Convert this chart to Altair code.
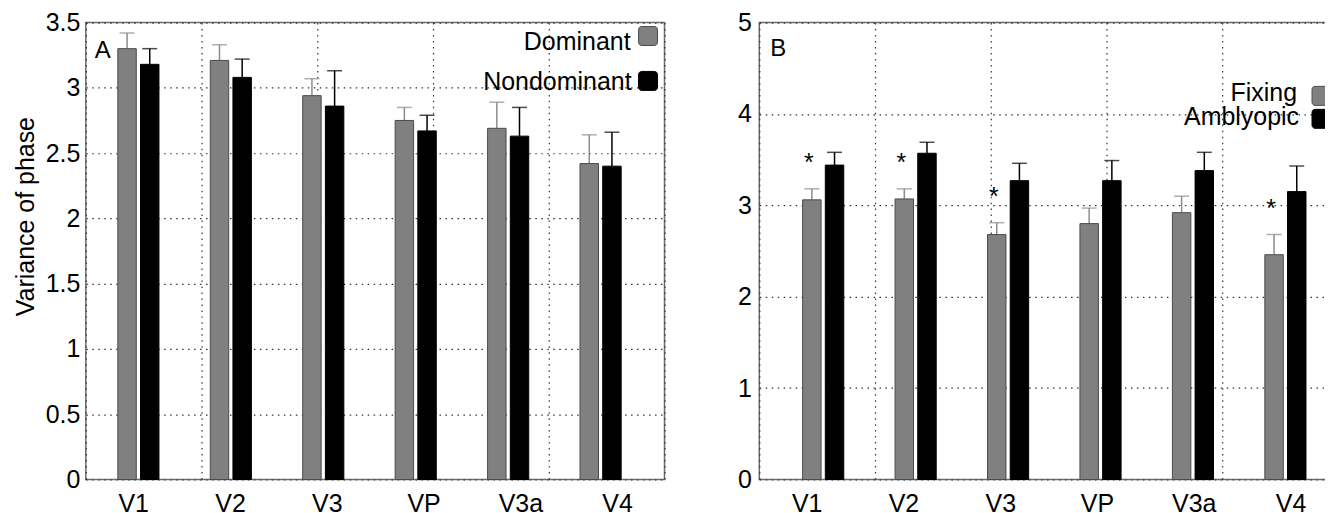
import altair as alt
import pandas as pd

# ---------------- data ----------------
regions = ["V1", "V2", "V3", "VP", "V3a", "V4"]

a_series = ["Dominant", "Nondominant"]
a_dom_mean = [3.30, 3.21, 2.94, 2.75, 2.69, 2.42]
a_dom_err = [0.12, 0.12, 0.13, 0.10, 0.20, 0.22]
a_non_mean = [3.18, 3.08, 2.86, 2.67, 2.63, 2.40]
a_non_err = [0.12, 0.14, 0.27, 0.12, 0.22, 0.26]

b_series = ["Fixing", "Amblyopic"]
b_fix_mean = [3.06, 3.07, 2.68, 2.80, 2.92, 2.46]
b_fix_err = [0.12, 0.11, 0.13, 0.17, 0.18, 0.22]
b_amb_mean = [3.44, 3.57, 3.27, 3.27, 3.38, 3.15]
b_amb_err = [0.14, 0.12, 0.19, 0.22, 0.20, 0.28]
b_significant = [True, True, True, False, False, True]

# ---------------- style ----------------
FONT = "Liberation Sans"
FS = 25
W, H = 580, 458
FILL = ["#808080", "#000000"]
EDGE = ["#4a4a4a", "#000000"]
ERRC = ["#8c8c8c", "#000000"]
GRID = dict(grid=True, gridDash=[1.5, 4.5], gridColor="#333333", gridWidth=1.2)


def long_df(series, m1, e1, m2, e2):
    rows = []
    for i, r in enumerate(regions):
        rows.append(dict(region=r, series=series[0], mean=m1[i], top=m1[i] + e1[i]))
        rows.append(dict(region=r, series=series[1], mean=m2[i], top=m2[i] + e2[i]))
    return pd.DataFrame(rows)


def panel(series, m1, e1, m2, e2, ymax, tick_count, ytitle, plabel, legend, stars=None,
          label_pad=6):
    df = long_df(series, m1, e1, m2, e2)
    xscale = alt.Scale(paddingInner=0.54, paddingOuter=0.40)
    xo = alt.XOffset("series:N", sort=series, scale=alt.Scale(paddingInner=0.25))
    yscale = alt.Scale(domain=[0, ymax], nice=False)
    yaxis_kw = dict(tickCount=tick_count, format="~g", ticks=False, domain=False,
                    labelPadding=label_pad, **GRID)
    if ytitle:
        yaxis = alt.Axis(title=ytitle, titlePadding=7, titleY=194, **yaxis_kw)
    else:
        yaxis = alt.Axis(title=None, **yaxis_kw)

    def X():
        return alt.X("region:N", sort=regions, scale=xscale, axis=None)

    def Y(field):
        return alt.Y(field, scale=yscale, axis=yaxis)

    base = alt.Chart(df)
    bars = base.mark_bar(strokeWidth=1, size=18.5).encode(
        x=X(), xOffset=xo, y=Y("mean:Q"),
        fill=alt.Fill("series:N", sort=series, scale=alt.Scale(domain=series, range=FILL), legend=None),
        stroke=alt.Stroke("series:N", sort=series, scale=alt.Scale(domain=series, range=EDGE), legend=None),
    )
    ecolor = alt.Color("series:N", sort=series, scale=alt.Scale(domain=series, range=ERRC), legend=None)
    stems = base.mark_rule(strokeWidth=1.5).encode(
        x=X(), xOffset=xo, y=Y("mean:Q"), y2="top:Q", color=ecolor,
    )
    caps = base.mark_tick(thickness=1.5, size=15).encode(
        x=X(), xOffset=xo, y=Y("top:Q"), color=ecolor,
    )
    layers = [stems, bars, caps]

    if stars is not None:
        sig = [r for r, s in zip(regions, stars) if s]
        sdf = df[(df["series"] == series[0]) & df["region"].isin(sig)].copy()
        sdf["star"] = "*"
        star = alt.Chart(sdf).mark_text(font=FONT, fontSize=FS, baseline="alphabetic",
                                        dy=-18, dx=-3, color="black").encode(
            x=X(), xOffset=xo, y=Y("top:Q"), text="star:N",
        )
        layers.append(star)

    # legend (label left of swatch) and panel letter
    for i, (tx, tb, sx, sy) in enumerate(legend):
        layers.append(
            alt.Chart(pd.DataFrame({"t": [series[i]]})).mark_text(
                font=FONT, fontSize=FS, align="right", baseline="alphabetic", color="black"
            ).encode(x=alt.value(tx), y=alt.value(tb), text="t:N")
        )
        layers.append(
            alt.Chart(pd.DataFrame({"t": [series[i]]})).mark_rect(
                cornerRadius=3, fill=FILL[i], stroke=EDGE[i], strokeWidth=1
            ).encode(x=alt.value(sx), x2=alt.value(sx + 19), y=alt.value(sy), y2=alt.value(sy + 19))
        )
    layers.append(
        alt.Chart(pd.DataFrame({"t": [plabel]})).mark_text(
            font=FONT, fontSize=24, align="left", baseline="alphabetic", color="black"
        ).encode(x=alt.value(plabel_x[plabel]), y=alt.value(plabel_y[plabel]), text="t:N")
    )

    inner = alt.layer(*layers)

    # category labels on their own (slightly wider-spaced) point scale, as in the original
    xlabels = alt.Chart(pd.DataFrame({"region": regions})).mark_point(opacity=0).encode(
        x=alt.X("region:N", sort=regions, scale=alt.Scale(type="point", padding=0.49),
                axis=alt.Axis(labelAngle=0, ticks=False, domain=False, labelPadding=12,
                              title=None, grid=False))
    )
    vgrid = alt.Chart(pd.DataFrame({"g": [0.0]})).mark_rule(opacity=0).encode(
        x=alt.X("g:Q", scale=alt.Scale(domain=[0, 5], nice=False),
                axis=alt.Axis(orient="top", labels=False, ticks=False, domain=False,
                              title=None, tickCount=5, **GRID))
    )
    return alt.layer(vgrid, xlabels, inner).resolve_scale(x="independent").properties(
        width=W, height=H)


plabel_x = {"A": 9, "B": 11}
plabel_y = {"A": 36, "B": 34}

panelA = panel(a_series, a_dom_mean, a_dom_err, a_non_mean, a_non_err, 3.5, 7,
               "Variance of phase", "A",
               legend=[(546, 27.5, 554, 4), (547, 68, 554, 49)], label_pad=6)
panelB = panel(b_series, b_fix_mean, b_fix_err, b_amb_mean, b_amb_err, 5, 5,
               None, "B",
               legend=[(539, 79, 554, 64), (541, 103, 554, 87)], stars=b_significant,
               label_pad=8)

chart = alt.hconcat(panelA, panelB, spacing=71).properties(
    padding={"left": 4, "top": 1, "right": -14, "bottom": 0}
).configure_view(stroke="#6b6b6b", strokeWidth=1.5).configure_axis(
    labelFont=FONT, labelFontSize=FS, labelColor="black",
    titleFont=FONT, titleFontSize=FS, titleFontWeight="normal", titleColor="black",
)

chart.save("out.html", embed_options={"renderer": "svg", "actions": False})
